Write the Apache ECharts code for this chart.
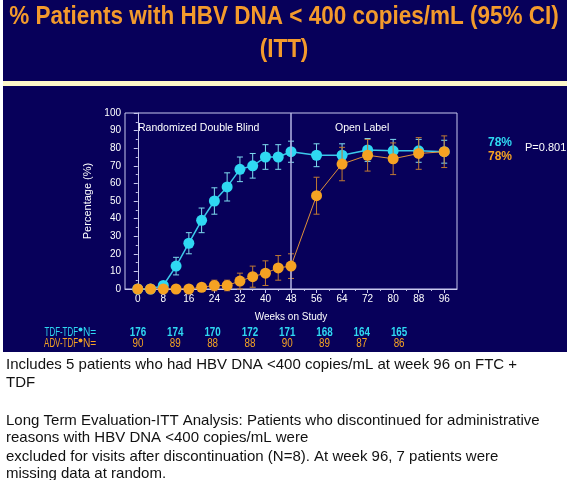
<!DOCTYPE html>
<html lang="en">
<head>
<meta charset="UTF-8">
<title>% Patients with HBV DNA &lt; 400 copies/mL</title>
<script src="https://cdn.jsdelivr.net/npm/echarts@6/dist/echarts.min.js"></script>
<style>body{margin:0;background:#fff}</style>
</head>
<body>
<div id="chart" style="width:569px;height:480px"></div>
<script>
// values
var weeks  = [0, 4, 8, 12, 16, 20, 24, 28, 32, 36, 40, 44, 48, 56, 64, 72, 80, 88, 96];
var tdfPct = [0, 0, 2, 13, 26, 39, 50, 58, 68, 70, 75, 75, 78, 76, 76, 79, 78.5, 78.5, 78];
var tdfErr = [0, 0, 2, 5, 6, 7, 7.5, 8, 7, 7, 7, 7, 6, 6.5, 6.5, 6.5, 6.5, 6.5, 6.5];
var advPct = [0, 0, 0, 0, 0, 1, 2, 2, 4.5, 7, 9, 12, 13, 53, 71, 76, 74, 77, 78];
var advErr = [0, 0, 0, 0, 0, 1, 3, 3, 4.5, 6, 7, 7, 7, 10.5, 9.5, 9, 9, 9, 9];
var tdfN = [176, 174, 170, 172, 171, 168, 164, 165];
var advN = [90, 89, 88, 88, 90, 89, 87, 86];
var xMajor = [0, 8, 16, 24, 32, 40, 48, 56, 64, 72, 80, 88, 96];
var xMinor = [4, 12, 20, 28, 36, 44, 52, 60, 68, 76, 84, 92];

var NAVY = '#07005a';
var CYAN = '#2fd8f2';
var ORANGE = '#f5a223';
var FONT = 'Liberation Sans, Arial, sans-serif';

function pairs(ys) {
    return weeks.map(function (w, i) { return [w, ys[i]]; });
}
function bars(ys, es) {
    var out = [];
    weeks.forEach(function (w, i) {
        if (es[i] > 0) out.push([w, ys[i] - es[i], ys[i] + es[i]]);
    });
    return out;
}
function errorBars(color) {
    return function (params, api) {
        var x = api.value(0);
        var lo = api.coord([x, api.value(1)]);
        var hi = api.coord([x, api.value(2)]);
        var w = 3;
        var st = { stroke: color, lineWidth: 1 };
        return {
            type: 'group',
            children: [
                { type: 'line', shape: { x1: lo[0], y1: lo[1], x2: hi[0], y2: hi[1] }, style: st },
                { type: 'line', shape: { x1: lo[0] - w, y1: lo[1], x2: lo[0] + w, y2: lo[1] }, style: st },
                { type: 'line', shape: { x1: hi[0] - w, y1: hi[1], x2: hi[0] + w, y2: hi[1] }, style: st }
            ]
        };
    };
}
// condensed text, since no narrow font is installed
function narrow(x, y, txt, fill, font, sx, align) {
    return { type: 'text', x: x, y: y, scaleX: sx, style: { text: txt, fill: fill, font: font,
        textAlign: align || 'left', textVerticalAlign: 'middle' } };
}

var titleFont = 'bold 25px ' + FONT;
var rowFont = '12px ' + FONT;
var graphics = [
    { type: 'rect', z: -10, shape: { x: 3, y: 0, width: 564, height: 81 }, style: { fill: NAVY } },
    { type: 'rect', z: -10, shape: { x: 3, y: 81, width: 564, height: 5 }, style: { fill: '#fdf7c8' } },
    { type: 'rect', z: -10, shape: { x: 3, y: 86, width: 564, height: 266 }, style: { fill: NAVY } },
    narrow(284, 17, '% Patients with HBV DNA < 400 copies/mL (95% CI)', '#f39a2c', titleFont, 0.9, 'center'),
    narrow(284, 50, '(ITT)', '#f39a2c', titleFont, 0.9, 'center'),
    { type: 'text', x: 138, y: 128, style: { text: 'Randomized Double Blind', fill: '#fff', font: '10.5px ' + FONT, textVerticalAlign: 'middle' } },
    { type: 'text', x: 335, y: 128, style: { text: 'Open Label', fill: '#fff', font: '10.5px ' + FONT, textVerticalAlign: 'middle' } },
    { type: 'text', x: 488, y: 143, style: { text: '78%', fill: CYAN, font: 'bold 12px ' + FONT, textVerticalAlign: 'middle' } },
    { type: 'text', x: 488, y: 157, style: { text: '78%', fill: ORANGE, font: 'bold 12px ' + FONT, textVerticalAlign: 'middle' } },
    { type: 'text', x: 525, y: 148, style: { text: 'P=0.801', fill: '#fff', font: '11px ' + FONT, textVerticalAlign: 'middle' } },
    narrow(78, 333, 'TDF-TDF', CYAN, rowFont, 0.66, 'right'),
    { type: 'circle', shape: { cx: 80.5, cy: 329.5, r: 2 }, style: { fill: CYAN } },
    narrow(83, 333, 'N=', CYAN, rowFont, 0.85),
    narrow(78, 344, 'ADV-TDF', ORANGE, rowFont, 0.66, 'right'),
    { type: 'circle', shape: { cx: 80.5, cy: 340.5, r: 2 }, style: { fill: ORANGE } },
    narrow(83, 344, 'N=', ORANGE, rowFont, 0.85)
];
tdfN.forEach(function (n, i) {
    graphics.push(narrow(138 + i * 37.3, 333, String(n), CYAN, 'bold 12px ' + FONT, 0.82, 'center'));
});
advN.forEach(function (n, i) {
    graphics.push(narrow(138 + i * 37.3, 344, String(n), ORANGE, rowFont, 0.82, 'center'));
});
var notes = [
    ['Includes 5 patients who had HBV DNA <400 copies/mL at week 96 on FTC +', 365],
    ['TDF', 383],
    ['Long Term Evaluation-ITT Analysis: Patients who discontinued for administrative', 421],
    ['reasons with HBV DNA <400 copies/mL were', 438],
    ['excluded for visits after discontinuation (N=8). At week 96, 7 patients were', 457],
    ['missing data at random.', 474]
];
notes.forEach(function (n) {
    graphics.push({ type: 'text', x: 6, y: n[1], style: { text: n[0], fill: '#111', font: '15px ' + FONT, textVerticalAlign: 'middle' } });
});

var axisColor = '#c8c8ee';
var chart = echarts.init(document.getElementById('chart'));
chart.setOption({
    animation: false,
    backgroundColor: '#fff',
    graphic: graphics,
    grid: { left: 125, right: 112, top: 113, bottom: 191, show: true, borderColor: axisColor, borderWidth: 1 },
    xAxis: [{
        type: 'value', min: -4, max: 100,
        name: 'Weeks on Study', nameLocation: 'middle', nameGap: 23,
        nameTextStyle: { color: '#fff', fontSize: 10, fontFamily: FONT },
        axisLine: { lineStyle: { color: axisColor } },
        axisTick: { customValues: xMajor, length: 4, lineStyle: { color: axisColor } },
        axisLabel: { customValues: xMajor, color: '#fff', fontSize: 10, fontFamily: FONT, margin: 5 },
        splitLine: { show: false }
    }, {
        type: 'value', min: -4, max: 100, position: 'bottom',
        axisLine: { show: false },
        axisTick: { customValues: xMinor, length: 2, lineStyle: { color: axisColor } },
        axisLabel: { show: false },
        splitLine: { show: false }
    }],
    yAxis: {
        type: 'value', min: 0, max: 100, interval: 10,
        name: 'Percentage (%)', nameLocation: 'middle', nameGap: 27,
        nameTextStyle: { color: '#fff', fontSize: 11, fontFamily: FONT },
        axisLine: { show: true, lineStyle: { color: axisColor } },
        axisTick: { show: true, length: 4, lineStyle: { color: axisColor } },
        minorTick: { show: true, splitNumber: 2, length: 2, lineStyle: { color: axisColor } },
        axisLabel: { color: '#fff', fontSize: 10, fontFamily: FONT, margin: 4 },
        splitLine: { show: false }
    },
    series: [{
        type: 'custom', name: 'TDF-TDF CI', renderItem: errorBars('#7fdcf0'),
        encode: { x: 0, y: [1, 2] }, data: bars(tdfPct, tdfErr), z: 2
    }, {
        type: 'line', name: 'TDF-TDF', data: pairs(tdfPct), z: 3,
        symbol: 'circle', symbolSize: 11,
        itemStyle: { color: CYAN },
        lineStyle: { color: '#3cc8ea', width: 1.5 },
        markLine: {
            silent: true, symbol: 'none', label: { show: false },
            lineStyle: { color: '#b4b4e4', type: 'solid', width: 1.5 },
            data: [{ xAxis: 48 }]
        }
    }, {
        type: 'custom', name: 'ADV-TDF CI', renderItem: errorBars('#c07a34'),
        encode: { x: 0, y: [1, 2] }, data: bars(advPct, advErr), z: 4
    }, {
        type: 'line', name: 'ADV-TDF', data: pairs(advPct), z: 5,
        symbol: 'circle', symbolSize: 11,
        itemStyle: { color: ORANGE },
        lineStyle: { color: '#e0903a', width: 1 }
    }]
});
</script>
</body>
</html>
